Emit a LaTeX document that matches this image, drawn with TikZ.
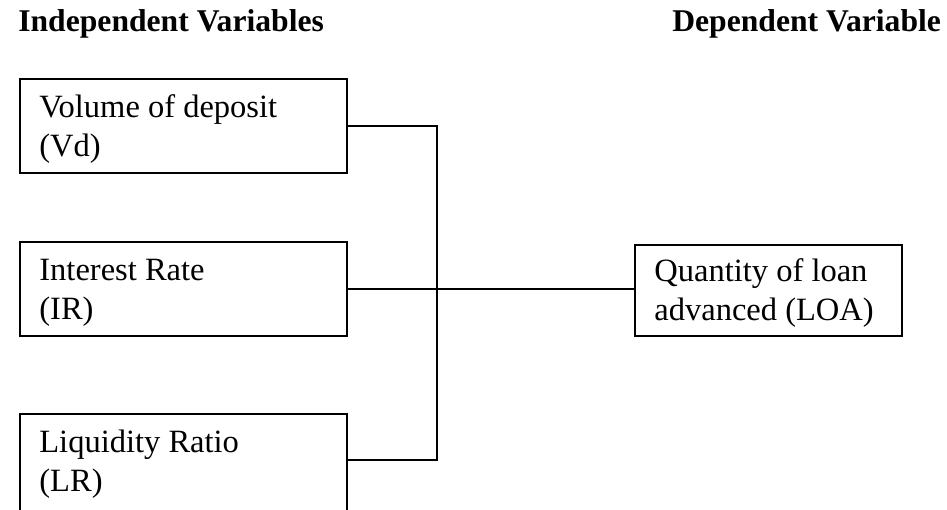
\documentclass[tikz,border=0pt]{standalone}
\usepackage{fontspec}
\setmainfont{Liberation Serif}
\usepackage{tikz}
\usetikzlibrary{positioning}

\begin{document}
\begin{tikzpicture}[
    box/.style={draw=black, line width=1.1pt, minimum width=6.54cm, minimum height=1.88cm, inner sep=0pt},
    resultbox/.style={box, minimum width=5.34cm, minimum height=1.82cm},
    boxtext/.style={align=left, anchor=base west, inner sep=0pt, font=\fontsize{18.5}{22}\selectfont},
    heading/.style={anchor=base west, inner sep=0pt, font=\fontsize{18}{22}\selectfont\bfseries},
    link/.style={line width=1pt, black}
]
    \useasboundingbox (0, 0) rectangle (18.94, -10.20);

    % Column headings.
    \node[heading] (indep) at (0.36, -0.64) {Independent Variables};
    \node[heading] (dep) at (13.44, -0.64) {Dependent Variable};

    % Independent variable boxes.
    \node[box] (vd) at (3.67, -2.52) {};
    \node[box] (ir) at (3.67, -5.78) {};
    \node[box, minimum height=2.00cm] (lr) at (3.67, -9.28) {};
    \node[boxtext] (vdtext) at ([xshift=0.40cm, yshift=-1.56cm]vd.north west) {Volume of deposit\\(Vd)};
    \node[boxtext] (irtext) at ([xshift=0.40cm, yshift=-1.56cm]ir.north west) {Interest Rate\\(IR)};
    \node[boxtext] (lrtext) at ([xshift=0.40cm, yshift=-1.56cm]lr.north west) {Liquidity Ratio\\(LR)};

    % Dependent variable box.
    \node[resultbox] (loa) at (15.37, -5.81) {};
    \node[boxtext] (loatext) at ([xshift=0.40cm, yshift=-1.52cm]loa.north west) {Quantity of loan\\advanced (LOA)};

    % Collector line joining the three inputs.
    \coordinate (lrport) at ([yshift=-0.94cm]lr.north east);
    \coordinate (spine) at (8.74, 0);
    \draw[link] (vd.east) -- (vd.east -| spine) -- (lrport -| spine) -- (lrport);
    \draw[link] (ir.east) -- (ir.east -| loa.west);
\end{tikzpicture}
\end{document}
